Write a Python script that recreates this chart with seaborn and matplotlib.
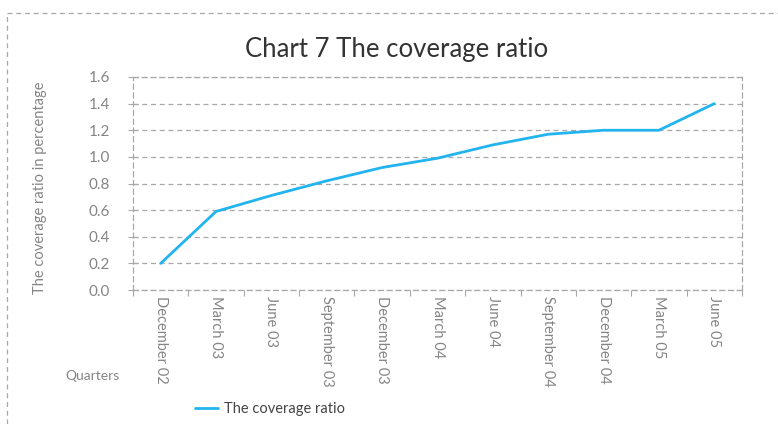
import matplotlib
matplotlib.use("Agg")
import matplotlib.pyplot as plt
from matplotlib.lines import Line2D
import numpy as np
import pandas as pd
import seaborn as sns

quarters = ["December 02", "March 03", "June 03", "September 03", "December 03",
            "March 04", "June 04", "September 04", "December 04", "March 05", "June 05"]
coverage = [0.20, 0.59, 0.71, 0.82, 0.92, 0.99, 1.09, 1.17, 1.20, 1.20, 1.40]
y_ticks = [0.0, 0.2, 0.4, 0.6, 0.8, 1.0, 1.2, 1.4, 1.6]
series_name = "The coverage ratio"

sns.set_theme(style="white")
plt.rcParams["font.family"] = ["Lato", "DejaVu Sans"]

df = pd.DataFrame({"Quarters": quarters, series_name: coverage})

W, H = 778, 424
fig = plt.figure(figsize=(W / 100, H / 100), dpi=100)
ax = fig.add_axes([133 / W, 1 - 290 / H, (742 - 133) / W, (290 - 77) / H])

line_color = "#22b4ee"
grid_color = "#a8a8a8"
text_gray = "#858585"

sns.lineplot(data=df, x="Quarters", y=series_name, sort=False, ax=ax,
             color=line_color, linewidth=2.0, label=series_name, legend=False)

ax.set_xlim(-0.48, 10.39)
ax.set_ylim(0, 1.6)
ax.set_yticks(y_ticks)
ax.set_yticklabels([f"{v:.1f}" for v in y_ticks])
ax.set_xticks(range(len(quarters)))
ax.set_xticklabels(quarters, rotation=-90, va="top", ha="center")
ax.set_xticks(np.arange(-0.5, len(quarters) - 0.4, 1.0), minor=True)

ax.tick_params(axis="x", which="major", length=0, pad=4, labelsize=10.5, labelcolor=text_gray)
ax.tick_params(axis="x", which="minor", length=4, width=0.8, color=grid_color, direction="out", bottom=True)
ax.tick_params(axis="y", which="major", length=7, width=0.8, color=grid_color, direction="inout",
               left=True, pad=13, labelsize=11, labelcolor=text_gray)

ax.yaxis.grid(True, linestyle=(0, (4, 3)), color=grid_color, linewidth=0.9)
ax.xaxis.grid(False)
for s in ax.spines.values():
    s.set_visible(True)
    s.set_linestyle((0, (4, 3)))
    s.set_color(grid_color)
    s.set_linewidth(0.9)

ax.set_xlabel("")
ax.set_ylabel("The coverage ratio in percentage", fontsize=10.5, color=text_gray)
ax.yaxis.set_label_coords(47 / W, 1 - 188 / H, transform=fig.transFigure)

fig.text(397 / W, 1 - 50 / H, "Chart 7 The coverage ratio", ha="center", va="center",
         fontsize=18.5, color="#333333")
fig.text(92 / W, 1 - 376 / H, "Quarters", ha="center", va="center", fontsize=10, color=text_gray)

handles, labels = ax.get_legend_handles_labels()
fig.legend(handles, labels, loc="center", bbox_to_anchor=(270 / W, 1 - 409 / H), frameon=False,
           fontsize=10.5, labelcolor="#444444", handlelength=1.6, handletextpad=0.4)

# Dashed frame around the chart area
fig.add_artist(Line2D([7 / W, 1.0], [1 - 13 / H, 1 - 13 / H], transform=fig.transFigure,
                      color=grid_color, linestyle=(0, (4, 3)), linewidth=0.9))
fig.add_artist(Line2D([7 / W, 7 / W], [0.0, 1 - 13 / H], transform=fig.transFigure,
                      color=grid_color, linestyle=(0, (4, 3)), linewidth=0.9))

fig.savefig("out.png", dpi=100)
